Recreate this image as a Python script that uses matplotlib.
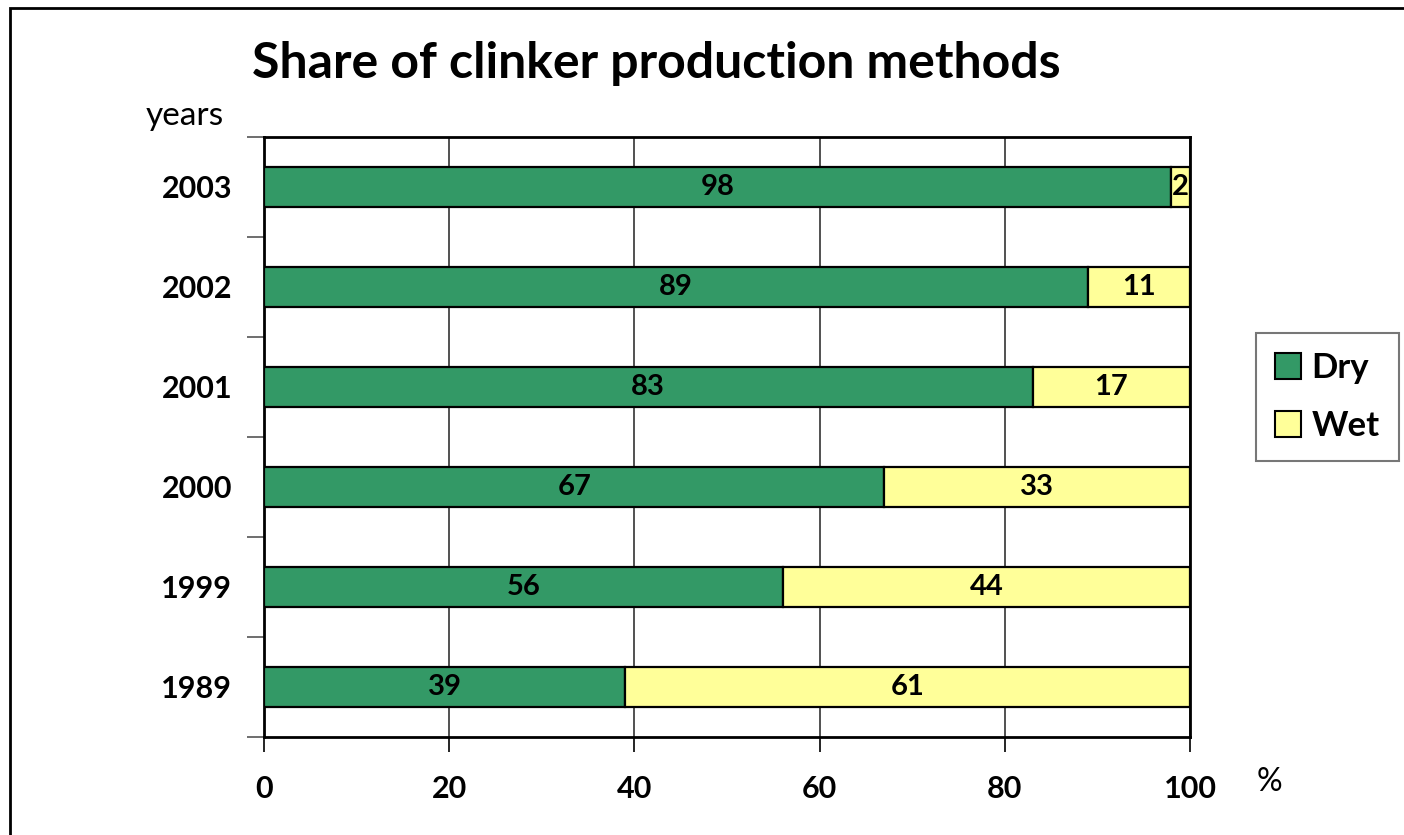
import numpy as np
import matplotlib.pyplot as plt
from matplotlib.patches import Rectangle, Patch

# data
years = ['1989', '1999', '2000', '2001', '2002', '2003']
dry = [39, 56, 67, 83, 89, 98]
wet = [61, 44, 33, 17, 11, 2]

green = '#339966'
yellow = '#FFFF99'

plt.rcParams['font.family'] = ['Lato', 'DejaVu Sans']

fig = plt.figure(figsize=(14.04, 8.35), dpi=100)
ax = fig.add_axes([264 / 1404, 1 - 737 / 835, (1190 - 264) / 1404, (737 - 137) / 835])

y = np.arange(len(years))
ax.barh(y, dry, height=0.4, color=green, edgecolor='black', linewidth=1.6, zorder=3)
ax.barh(y, wet, left=dry, height=0.4, color=yellow, edgecolor='black', linewidth=1.6, zorder=3)

for i in range(len(years)):
    ax.text(dry[i] / 2, y[i], str(dry[i]), ha='center', va='center',
            fontsize=21, fontweight='bold', zorder=4)
    ax.text(dry[i] + wet[i] / 2, y[i], str(wet[i]), ha='center', va='center',
            fontsize=21, fontweight='bold', zorder=4)

ax.set_xlim(0, 100)
ax.set_ylim(-0.5, len(years) - 0.5)
ax.set_xticks(range(0, 101, 20))
ax.set_xticklabels([str(v) for v in range(0, 101, 20)], fontsize=22, fontweight='bold')
ax.tick_params(axis='x', length=11, width=1.2, pad=16, direction='out')
ax.set_yticks(y)
ax.set_yticklabels(years, fontsize=22, fontweight='bold')
ax.tick_params(axis='y', which='major', length=0, pad=23)
ax.set_yticks(np.arange(-0.5, len(years), 1.0), minor=True)
ax.tick_params(axis='y', which='minor', length=12, width=1.2, color='#555555')

ax.grid(axis='x', color='#333333', linewidth=1.2, zorder=0)
for s in ax.spines.values():
    s.set_linewidth(2)
    s.set_color('black')

fig.text(252 / 1404, 1 - 63 / 835, 'Share of clinker production methods',
         fontsize=36, fontweight='bold', ha='left', va='center')
fig.text(185 / 1404, 1 - 116 / 835, 'years', fontsize=24, ha='center', va='center')
fig.text(1269 / 1404, 1 - 782 / 835, '%', fontsize=23, ha='center', va='center')

# outer frame
fig.patches.append(Rectangle((10 / 1404, -0.05), 1.2, 1 - 8 / 835 + 0.05,
                             transform=fig.transFigure, fill=False,
                             edgecolor='black', linewidth=2))

handles = [Patch(facecolor=green, edgecolor='black', linewidth=1.5, label='Dry'),
           Patch(facecolor=yellow, edgecolor='black', linewidth=1.5, label='Wet')]
leg = fig.legend(handles=handles, loc='upper left',
                 bbox_to_anchor=(1256 / 1404, 1 - 333 / 835),
                 prop={'size': 25, 'weight': 'bold'}, frameon=True, fancybox=False,
                 handlelength=0.75, handleheight=0.75, handletextpad=0.3,
                 labelspacing=0.75, borderpad=0.55, borderaxespad=0)
leg.get_frame().set_edgecolor('#555555')
leg.get_frame().set_linewidth(1.5)

fig.savefig('out.png', dpi=100)
